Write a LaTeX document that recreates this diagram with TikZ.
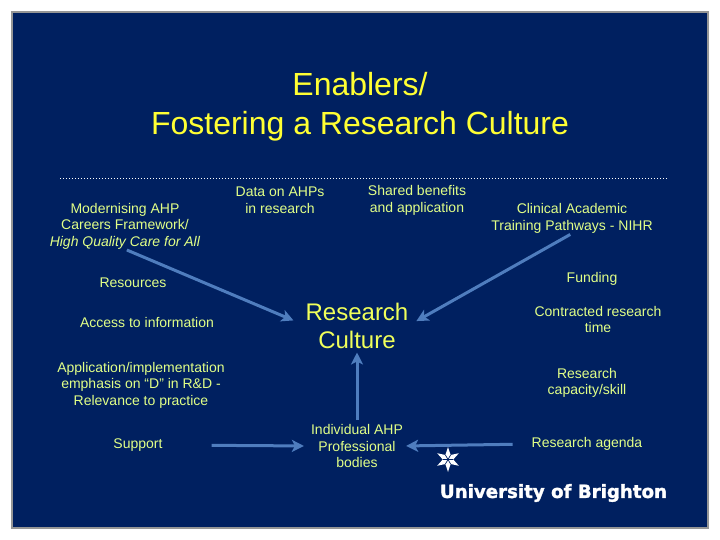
\documentclass[tikz,border=0pt]{standalone}
\usepackage{fontspec}
\setmainfont{Liberation Sans}
\newfontfamily\logofont[BoldFeatures={FakeBold=1.6}]{DejaVu Sans}
\usetikzlibrary{arrows.meta}
\definecolor{navy}{RGB}{0,32,96}
\definecolor{framegray}{RGB}{150,150,150}
\definecolor{lbl}{RGB}{225,255,135}
\definecolor{ttl}{RGB}{255,255,51}
\definecolor{bigc}{RGB}{240,255,90}
\definecolor{conn}{RGB}{79,125,190}
\tikzset{
 lab/.style={inner sep=0pt,align=center,text=lbl,font=\fontsize{14}{16.5}\selectfont},
 big/.style={inner sep=0pt,align=center,text=bigc,font=\fontsize{24}{28}\selectfont},
 ttlstyle/.style={inner sep=0pt,align=center,text=ttl,font=\fontsize{32}{39}\selectfont},
 link/.style={draw=conn,line width=3pt,-{Stealth[length=12pt,width=12pt,inset=3pt]}},
}
\begin{document}
\begin{tikzpicture}[x=1pt,y=-1pt]
\useasboundingbox (0,0) rectangle (720,540);
\fill[white] (0,0) rectangle (720,540);
\fill[navy,draw=framegray,line width=2pt] (12,12) rectangle (708,528);
\node[ttlstyle] (title) at (360,107) {Enablers/\\Fostering a Research Culture};
\coordinate (dl) at (60,179);
\coordinate (dr) at (668,179);
\draw[white,line width=1pt,dash pattern=on 1pt off 2pt] (dl) -- (dr);
\node[lab] (modern) at (125,226) {Modernising AHP\\Careers Framework/\\\textit{High Quality Care for All}};
\node[lab] (data) at (280,200.5) {Data on AHPs\\in research};
\node[lab] (shared) at (417,200.5) {Shared benefits\\and application};
\node[lab] (clinical) at (572,218.5) {Clinical Academic\\Training Pathways - NIHR};
\node[lab] (resources) at (133,283) {Resources};
\node[lab] (funding) at (592,278.5) {Funding};
\node[lab] (access) at (147,322.5) {Access to information};
\node[lab] (contract) at (598,319.5) {Contracted research\\time};
\node[lab] (appl) at (141,385) {Application/implementation\\emphasis on “D” in R\&D -\\Relevance to practice};
\node[lab] (capacity) at (587,383) {Research\\capacity/skill};
\node[lab] (support) at (138,445) {Support};
\node[lab] (agenda) at (587,444) {Research agenda};
\node[lab] (indiv) at (357,446) {Individual AHP\\Professional\\bodies};
\node[big] (culture) at (357,325.5) {Research\\Culture};
\draw[link,shorten <=2pt,shorten >=13pt] (modern.south) -- (culture.west);
\draw[link,shorten <=2pt,shorten >=9pt] (clinical.south) -- (culture.east);
\draw[link,shorten <=4pt,shorten >=4pt] (indiv.north) -- (culture.south);
\draw[link,shorten <=49pt,shorten >=7pt] (support.east) -- (indiv.west);
\draw[link,shorten <=19pt,shorten >=3pt] (agenda.west) -- (indiv.east);
\begin{scope}[shift={(448,459.5)}]
\fill[white] (90:12.5) -- (120:5.2) -- (150:12.5) -- (180:5.2) -- (210:12.5) -- (240:5.2) -- (270:12.5) -- (300:5.2) -- (330:12.5) -- (0:5.2) -- (30:12.5) -- (60:5.2) -- cycle;
\draw[navy,line width=.7pt] (0,0) -- (60:5.2) (0,0) -- (120:5.2) (0,0) -- (180:5.2) (0,0) -- (240:5.2) (0,0) -- (300:5.2) (0,0) -- (0:5.2);
\end{scope}
\node[inner sep=0pt,text=white,font=\logofont\bfseries\fontsize{18.2}{20}\selectfont] (logo) at (553.5,493) {University of Brighton};
\end{tikzpicture}
\end{document}
